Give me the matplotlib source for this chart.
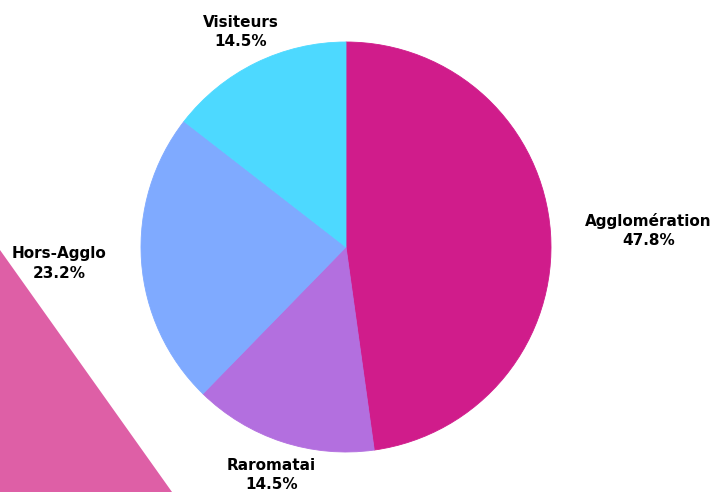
import numpy as np
import matplotlib
matplotlib.use("Agg")
import matplotlib.pyplot as plt
from matplotlib.patches import Polygon

categories = ["Agglomération", "Raromatai", "Hors-Agglo", "Visiteurs"]
values = [47.8, 14.5, 23.2, 14.5]
colors = ["#D01C8B", "#B36FDF", "#7FAAFF", "#4DD9FF"]

W, H = 712, 492
fig = plt.figure(figsize=(W / 100, H / 100), dpi=100)
ax = fig.add_axes([0, 0, 1, 1])

# fond : triangle rose en bas à gauche
tri = Polygon([(0, H - 250), (0, 0), (172, 0)], closed=True,
              facecolor="#DE5FA6", edgecolor="none", zorder=0)
ax.add_patch(tri)

labels = [f"{c}\n{v:.1f}%" for c, v in zip(categories, values)]
wedges, texts = ax.pie(values, colors=colors, labels=labels,
                       startangle=90, counterclock=False,
                       center=(346, H - 247), radius=205,
                       labeldistance=1.17, frame=True,
                       wedgeprops=dict(linewidth=0.6),
                       textprops=dict(fontsize=11, fontweight="bold",
                                      family="DejaVu Sans", color="#000000"))
for w, c in zip(wedges, colors):
    w.set_edgecolor(c)

ax.set_xlim(0, W)
ax.set_ylim(0, H)
ax.set_aspect("equal")
ax.axis("off")

for t, w in zip(texts, wedges):
    ang = np.deg2rad((w.theta1 + w.theta2) / 2)
    c = np.cos(ang)
    if c > 0.6:
        t.set_ha("left")
    elif c < -0.6:
        t.set_ha("right")
    else:
        t.set_ha("center")
    t.set_multialignment("center")
    t.set_linespacing(1.35)

fig.savefig("out.png", dpi=100)
